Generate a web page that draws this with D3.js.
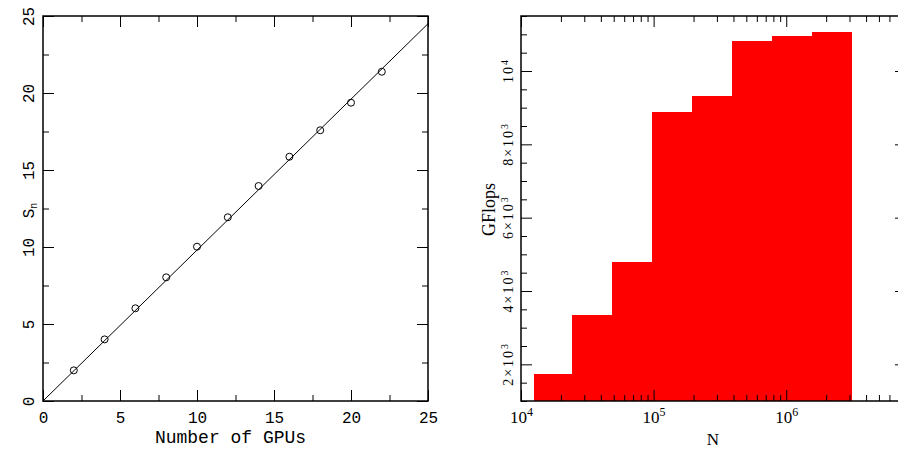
<!DOCTYPE html>
<html><head><meta charset="utf-8">
<script src="https://cdn.jsdelivr.net/npm/d3@7"></script>
<style>
body{margin:0;background:#fff;}
svg{display:block;}
</style></head>
<body>
<svg id="c" width="898" height="450"></svg>
<script>
// ---- Left panel data ----
const gpus = [2, 4, 6, 8, 10, 12, 14, 16, 18, 20, 22];
const speedup = [1.99, 4.0, 6.02, 8.03, 10.02, 11.93, 13.96, 15.86, 17.58, 19.37, 21.38];
const fitX = [0, 25];
const fitY = [0, 24.5];
const leftMajor = [0, 5, 10, 15, 20, 25];
const leftMinor = [2.5, 7.5, 12.5, 17.5, 22.5];

// ---- Right panel data ----
const binEdges = [12600, 24300, 48500, 97300, 195000, 390000, 782000, 1567000, 3120000];
const gflops = [1740, 3345, 4800, 8890, 9310, 10820, 10960, 11055];
const xDecades = [1e4, 1e5, 1e6];
const xDecadeExp = ["4", "5", "6"];
const yMajor = [2000, 4000, 6000, 8000, 10000];
const yMajorLabels = [["2×10", "3"], ["4×10", "3"], ["6×10", "3"], ["8×10", "3"], ["10", "4"]];

const svg = d3.select("#c");
const mono = "'Liberation Mono', 'DejaVu Sans Mono', monospace";
const serif = "'Liberation Serif', 'DejaVu Serif', serif";

function styleAxis(g) {
  g.select(".domain").remove();
  g.selectAll(".tick line").attr("stroke", "#000").attr("stroke-width", 1);
}

// ================= LEFT PANEL =================
const L = {x0: 43, x1: 428, y0: 16, y1: 401};
const xL = d3.scaleLinear().domain([0, 25]).range([L.x0, L.x1]);
const yL = d3.scaleLinear().domain([0, 25]).range([L.y1, L.y0]);

const gl = svg.append("g");
gl.append("g").attr("transform", `translate(0,${L.y1})`)
  .call(d3.axisBottom(xL).tickValues(leftMajor).tickSize(-11).tickFormat(d3.format("d")))
  .call(styleAxis)
  .call(g => g.selectAll("text").attr("y", 22).attr("dy", 0)
    .style("font-family", mono).style("font-size", "16px").attr("fill", "#000"));
gl.append("g").attr("transform", `translate(0,${L.y1})`)
  .call(d3.axisBottom(xL).tickValues(leftMinor).tickSize(-6).tickFormat(""))
  .call(styleAxis);
gl.append("g").attr("transform", `translate(0,${L.y0})`)
  .call(d3.axisTop(xL).tickValues(leftMajor).tickSize(-11).tickFormat(""))
  .call(styleAxis);
gl.append("g").attr("transform", `translate(0,${L.y0})`)
  .call(d3.axisTop(xL).tickValues(leftMinor).tickSize(-6).tickFormat(""))
  .call(styleAxis);
gl.append("g").attr("transform", `translate(${L.x0},0)`)
  .call(d3.axisLeft(yL).tickValues(leftMajor).tickSize(-11).tickFormat(d3.format("d")))
  .call(styleAxis)
  .call(g => g.selectAll("text").attr("transform", "rotate(-90)")
    .attr("x", 0).attr("y", -9.5).attr("dy", 0).style("text-anchor", "middle")
    .style("font-family", mono).style("font-size", "16px").attr("fill", "#000"));
gl.append("g").attr("transform", `translate(${L.x0},0)`)
  .call(d3.axisLeft(yL).tickValues(leftMinor).tickSize(-6).tickFormat(""))
  .call(styleAxis);
gl.append("g").attr("transform", `translate(${L.x1},0)`)
  .call(d3.axisRight(yL).tickValues(leftMajor).tickSize(-11).tickFormat(""))
  .call(styleAxis);
gl.append("g").attr("transform", `translate(${L.x1},0)`)
  .call(d3.axisRight(yL).tickValues(leftMinor).tickSize(-6).tickFormat(""))
  .call(styleAxis);

const fit = fitX.map((x, i) => [x, fitY[i]]);
gl.append("path").datum(fit)
  .attr("d", d3.line().x(d => xL(d[0])).y(d => yL(d[1])))
  .attr("fill", "none").attr("stroke", "#000").attr("stroke-width", 1);
gl.selectAll("circle.pt").data(gpus.map((g, i) => [g, speedup[i]])).enter()
  .append("circle").attr("class", "pt")
  .attr("cx", d => xL(d[0])).attr("cy", d => yL(d[1])).attr("r", 3.5)
  .attr("fill", "none").attr("stroke", "#000").attr("stroke-width", 1);
gl.append("rect").attr("x", L.x0).attr("y", L.y0).attr("width", L.x1 - L.x0).attr("height", L.y1 - L.y0)
  .attr("fill", "none").attr("stroke", "#000").attr("stroke-width", 1.5);
gl.append("text").attr("x", (L.x0 + L.x1) / 2 - 5).attr("y", 443)
  .attr("text-anchor", "middle").style("font-family", mono).style("font-size", "18px")
  .text("Number of GPUs");
const sl = gl.append("text").attr("transform", `translate(34,${(L.y0 + L.y1) / 2 + 2}) rotate(-90)`)
  .attr("text-anchor", "middle").style("font-family", mono).style("font-size", "16px");
sl.append("tspan").text("S");
sl.append("tspan").attr("dy", 3).style("font-size", "10px").text("n");

// ================= RIGHT PANEL =================
const R = {x0: 521, x1: 906, y0: 16, y1: 401};
const xR = d3.scaleLog().domain([1e4, 8e6]).range([R.x0, R.x1]);
const yR = d3.scaleLinear().domain([1000, 11500]).range([R.y1, R.y0]);

const gr = svg.append("g");
gr.selectAll("rect.bar").data(gflops).enter().append("rect").attr("class", "bar")
  .attr("x", (d, i) => xR(binEdges[i]))
  .attr("width", (d, i) => xR(binEdges[i + 1]) - xR(binEdges[i]) + 0.6)
  .attr("y", d => yR(d))
  .attr("height", d => yR(1000) - yR(d))
  .attr("fill", "#ff0000").attr("shape-rendering", "crispEdges");

const xMinor = [];
xDecades.forEach(dec => { for (let m = 2; m <= 9; m++) { const v = dec * m; if (v <= 8e6) xMinor.push(v); } });
const yMinor = d3.range(1000, 11501, 500).filter(v => yMajor.indexOf(v) < 0);

gr.append("g").attr("transform", `translate(0,${R.y1})`)
  .call(d3.axisBottom(xR).tickValues(xDecades).tickSize(-11).tickFormat(""))
  .call(styleAxis)
  .call(g => {
    g.selectAll(".tick text").attr("y", 22).attr("dy", 0)
      .style("font-family", serif).style("font-size", "17px").attr("fill", "#000")
      .each(function(d, i) {
        const t = d3.select(this);
        t.text(null);
        t.append("tspan").text("10");
        t.append("tspan").attr("dy", -7).style("font-size", "12px").text(xDecadeExp[i]);
      });
  });
gr.append("g").attr("transform", `translate(0,${R.y1})`)
  .call(d3.axisBottom(xR).tickValues(xMinor).tickSize(-6).tickFormat(""))
  .call(styleAxis);
gr.append("g").attr("transform", `translate(0,${R.y0})`)
  .call(d3.axisTop(xR).tickValues(xDecades).tickSize(-11).tickFormat(""))
  .call(styleAxis);
gr.append("g").attr("transform", `translate(0,${R.y0})`)
  .call(d3.axisTop(xR).tickValues(xMinor).tickSize(-6).tickFormat(""))
  .call(styleAxis);
gr.append("g").attr("transform", `translate(${R.x0},0)`)
  .call(d3.axisLeft(yR).tickValues(yMajor).tickSize(-11).tickFormat(""))
  .call(styleAxis)
  .call(g => {
    g.selectAll(".tick text").attr("transform", "rotate(-90)")
      .attr("x", 0).attr("y", -8).attr("dy", 0).style("text-anchor", "middle")
      .style("font-family", serif).style("font-size", "14px").style("letter-spacing", "2px")
      .attr("fill", "#000")
      .each(function(d, i) {
        const t = d3.select(this);
        t.text(null);
        const lab = yMajorLabels[i];
        t.append("tspan").text(lab[0]);
        t.append("tspan").attr("dy", -5).style("font-size", "10px").style("letter-spacing", "0px").text(lab[1]);
      });
  });
gr.append("g").attr("transform", `translate(${R.x0},0)`)
  .call(d3.axisLeft(yR).tickValues(yMinor).tickSize(-6).tickFormat(""))
  .call(styleAxis);
gr.append("g").attr("transform", `translate(${R.x1},0)`)
  .call(d3.axisRight(yR).tickValues(yMajor).tickSize(-11).tickFormat(""))
  .call(styleAxis);
gr.append("g").attr("transform", `translate(${R.x1},0)`)
  .call(d3.axisRight(yR).tickValues(yMinor).tickSize(-6).tickFormat(""))
  .call(styleAxis);
gr.append("rect").attr("x", R.x0).attr("y", R.y0).attr("width", R.x1 - R.x0).attr("height", R.y1 - R.y0)
  .attr("fill", "none").attr("stroke", "#000").attr("stroke-width", 1.5);
gr.append("text").attr("x", 713).attr("y", 445).attr("text-anchor", "middle")
  .style("font-family", serif).style("font-size", "17px").text("N");
gr.append("text").attr("transform", `translate(495,${(R.y0 + R.y1) / 2 + 1}) rotate(-90)`)
  .attr("text-anchor", "middle").style("font-family", serif).style("font-size", "18px").text("GFlops");
</script>
</body></html>
